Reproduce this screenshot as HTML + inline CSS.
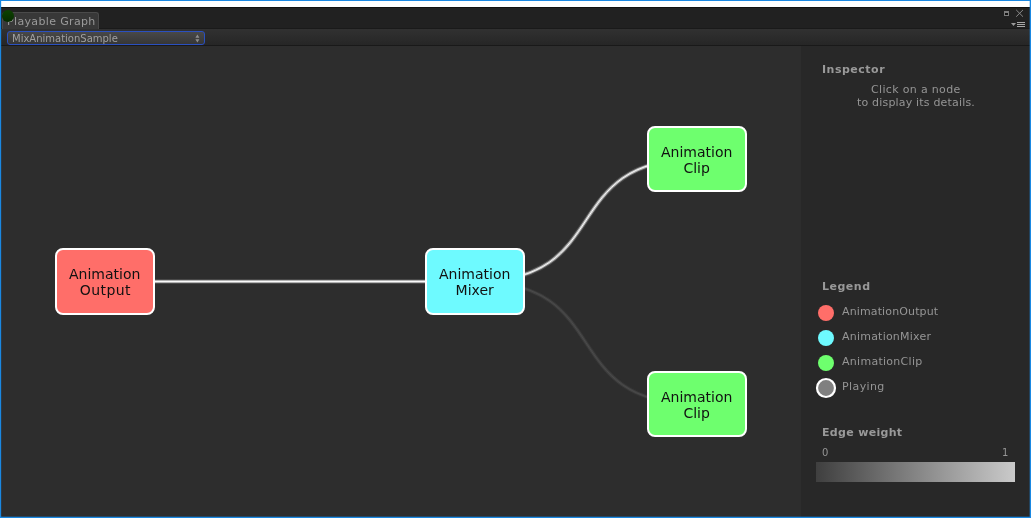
<!DOCTYPE html>
<html><head><meta charset="utf-8">
<style>
html,body{margin:0;padding:0;}
body{width:1031px;height:518px;overflow:hidden;background:#1a88e2;position:relative;font-family:"DejaVu Sans","Liberation Sans",sans-serif;}
#win{position:absolute;left:1px;top:1px;width:1029px;height:516px;background:#2d2d2d;overflow:hidden;}
#title{position:absolute;left:0;top:0;width:1029px;height:6px;background:#fff;}
#tabbar{position:absolute;left:0;top:6px;width:1029px;height:23px;background:#212121;border-top:1px solid #111;box-sizing:border-box;}
#tab{z-index:2;position:absolute;left:1px;top:11px;width:97px;height:17px;background:#383838;border:1px solid #4a4a4a;border-bottom:none;border-radius:3px 3px 0 0;box-sizing:border-box;}
#tab span{position:absolute;left:4px;top:2px;font-size:11px;color:#9a9a9a;white-space:nowrap;letter-spacing:0.35px;will-change:transform;}
#dot{z-index:3;position:absolute;left:1px;top:9px;width:12px;height:12px;border-radius:50%;background:linear-gradient(#0c4300,#062b00);}
#toolbar{position:absolute;left:0;top:27px;width:1029px;height:18px;background:linear-gradient(#313131,#262626);border-top:1px solid #1a1a1a;border-bottom:1px solid #191919;box-sizing:border-box;}
#dd{position:absolute;left:6px;top:30px;width:198px;height:14px;border:1px solid #2a50c0;border-radius:3px;background:linear-gradient(#484848,#363636);box-sizing:border-box;}
#dd span{position:absolute;left:4px;top:1px;font-size:10px;line-height:12px;color:#a0a0a0;white-space:nowrap;will-change:transform;}
#main{position:absolute;left:0;top:45px;width:800px;height:471px;background:#2d2d2d;}
#side{position:absolute;left:800px;top:45px;width:229px;height:471px;background:#282828;}
.node{position:absolute;width:100px;height:67px;box-sizing:border-box;border:2px solid #fff;border-radius:8px;text-align:center;font-size:14px;line-height:16px;color:#111;display:flex;align-items:center;justify-content:center;}
.nt{display:block;will-change:transform;}
.h{will-change:transform;position:absolute;font-weight:bold;font-size:11px;color:#999;white-space:nowrap;letter-spacing:0.5px;}
.t{will-change:transform;position:absolute;font-size:11px;color:#959595;white-space:nowrap;letter-spacing:0.4px;}
.lg{position:absolute;width:16px;height:16px;border-radius:50%;}
</style></head><body>
<div id="win">
<div id="title"></div>
<div style="position:absolute;z-index:5;left:1028px;top:0;width:1px;height:516px;background:rgba(26,136,226,0.3)"></div>
<div style="position:absolute;z-index:5;left:0;top:515px;width:1029px;height:1px;background:rgba(26,136,226,0.3)"></div>
<div style="position:absolute;z-index:5;left:0;top:0;width:1px;height:516px;background:rgba(26,136,226,0.15)"></div>
<div id="tabbar"></div>
<div id="tab"><span>Playable Graph</span></div>
<div id="dot"></div>
<div id="toolbar"></div>
<div id="dd"><span>MixAnimationSample</span></div>
<svg id="icons" width="1029" height="50" style="position:absolute;left:0;top:0" shape-rendering="auto">
<rect x="1003" y="10" width="5" height="5" fill="#7d7d7d"/>
<rect x="1004" y="12" width="3" height="2" fill="#141414"/>
<path d="M1015.2 8.9 L1022 15.7 M1022 8.9 L1015.2 15.7" stroke="#8a8a8a" stroke-width="1" fill="none"/>
<path d="M1010 22 H1015 L1012.5 25 Z" fill="#9a9a9a"/>
<rect x="1016" y="21" width="8" height="1" fill="#a8a8a8"/>
<rect x="1016" y="23" width="8" height="1" fill="#a8a8a8"/>
<rect x="1016" y="25" width="8" height="1" fill="#a8a8a8"/>
<path d="M194.4 36.8 L196.4 33.5 L198.4 36.8 Z M194.4 38.2 L196.4 41.5 L198.4 38.2 Z" fill="#8e8e8e"/>
</svg>
<div id="main"></div>
<div id="side"></div>
<svg id="edges" width="1029" height="516" style="position:absolute;left:0;top:0" fill="none">
<g stroke="#fff">
<path d="M104 280.5 H474 M474 280.5 C615 280.5 555 158 696 158" stroke-width="5" stroke-opacity="0.13"/>
<path d="M104 280.5 H474 M474 280.5 C615 280.5 555 158 696 158" stroke-width="3" stroke-opacity="0.58"/>
<path d="M104 280.5 H474 M474 280.5 C615 280.5 555 158 696 158" stroke-width="1" stroke-opacity="0.93"/>
</g>
<g stroke="#4b4b4b">
<path d="M474 280.5 C615 280.5 555 403 696 403" stroke-width="5" stroke-opacity="0.13"/>
<path d="M474 280.5 C615 280.5 555 403 696 403" stroke-width="3" stroke-opacity="0.58"/>
<path d="M474 280.5 C615 280.5 555 403 696 403" stroke-width="1" stroke-opacity="0.93"/>
</g>
</svg>
<div class="node" style="left:54px;top:247px;background:#ff6e69"><span class="nt">Animation<br><span style="letter-spacing:0.4px;margin-left:1.4px">Output</span></span></div>
<div class="node" style="left:424px;top:247px;background:#6efaff"><span class="nt">Animation<br>Mixer</span></div>
<div class="node" style="left:646px;top:125px;height:66px;padding-top:1px;background:#6eff6e"><span class="nt">Animation<br>Clip</span></div>
<div class="node" style="left:646px;top:370px;height:66px;padding-top:1px;background:#6eff6e"><span class="nt">Animation<br>Clip</span></div>

<div class="h" style="left:821px;top:62px">Inspector</div>
<div class="t" style="left:870px;top:82px;letter-spacing:0.33px">Click on a node</div>
<div class="t" style="left:856px;top:95px;letter-spacing:0.18px">to display its details.</div>
<div class="h" style="left:821px;top:279px">Legend</div>
<div class="lg" style="left:817px;top:304px;background:#ff6e69"></div>
<div class="t" style="left:841px;top:304px;letter-spacing:0.13px">AnimationOutput</div>
<div class="lg" style="left:817px;top:329px;background:#6efaff"></div>
<div class="t" style="left:841px;top:329px;letter-spacing:0.22px">AnimationMixer</div>
<div class="lg" style="left:817px;top:354px;background:#6eff6e"></div>
<div class="t" style="left:841px;top:354px;letter-spacing:0.28px">AnimationClip</div>
<svg style="position:absolute;left:813px;top:375px" width="24" height="24"><circle cx="12" cy="12" r="9" fill="#808080" stroke="#fff" stroke-width="2.2"/></svg>
<div class="t" style="left:841px;top:379px">Playing</div>
<div class="h" style="left:821px;top:425px;letter-spacing:0.32px">Edge weight</div>
<div class="t" style="left:821px;top:446px;font-size:10px">0</div>
<div class="t" style="left:1001px;top:446px;font-size:10px">1</div>
<div style="position:absolute;left:815px;top:461px;width:199px;height:20px;background:linear-gradient(90deg,#3f3f3f,#cacaca)"></div>
</div>
</body></html>
